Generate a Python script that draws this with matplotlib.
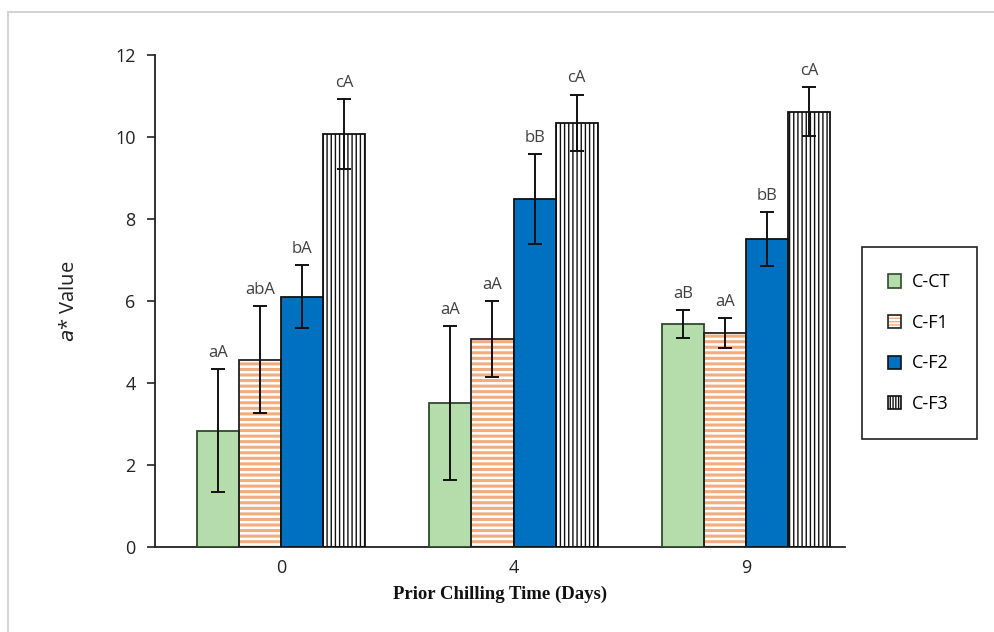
import matplotlib

matplotlib.use("Agg")
import matplotlib.pyplot as plt
from matplotlib.lines import Line2D
from matplotlib.legend_handler import HandlerTuple
import numpy as np

# a* value per treatment at each prior chilling time
days = ["0", "4", "9"]
series = ["C-CT", "C-F1", "C-F2", "C-F3"]
means = {
    "C-CT": [2.83, 3.51, 5.44],
    "C-F1": [4.57, 5.07, 5.22],
    "C-F2": [6.10, 8.48, 7.51],
    "C-F3": [10.07, 10.34, 10.62],
}
errors = {
    "C-CT": [1.50, 1.88, 0.34],
    "C-F1": [1.30, 0.93, 0.36],
    "C-F2": [0.77, 1.10, 0.65],
    "C-F3": [0.86, 0.69, 0.60],
}
letters = {
    "C-CT": ["aA", "aA", "aB"],
    "C-F1": ["abA", "aA", "aA"],
    "C-F2": ["bA", "bB", "bB"],
    "C-F3": ["cA", "cA", "cA"],
}

styles = {
    "C-CT": dict(fill="#b5dcab", hatch=None, hcolor=None, edge="#2f4a2c", hlw=1.0),
    "C-F1": dict(fill="white", hatch="---", hcolor="#f2ac7e", edge="#222222", hlw=2.2),
    "C-F2": dict(fill="#0070c0", hatch=None, hcolor=None, edge="#111111", hlw=1.0),
    "C-F3": dict(fill="white", hatch="||||", hcolor="#111111", edge="#111111", hlw=1.0),
}
legend_hatch = {"C-F1": "-----", "C-F3": "||||||"}

plt.rcParams["font.family"] = ["Open Sans", "DejaVu Sans"]
plt.rcParams["mathtext.fontset"] = "dejavusans"

fig = plt.figure(figsize=(9.95, 6.32), dpi=100)
ax = fig.add_axes([0.1558, 0.1345, 0.6935, 0.7785])

x = np.arange(len(days))
width = 0.181
handles = []
for i, name in enumerate(series):
    st = styles[name]
    pos = x + (i - 1.5) * width
    if st["hatch"]:
        with plt.rc_context({"hatch.linewidth": st["hlw"]}):
            ax.bar(pos, means[name], width, color=st["fill"], edgecolor=st["hcolor"],
                   hatch=st["hatch"], linewidth=0, zorder=2)
            inner = plt.Rectangle((0, 0), 1, 1, facecolor=st["fill"],
                                  edgecolor=st["hcolor"], hatch=legend_hatch[name],
                                  linewidth=0)
        ax.bar(pos, means[name], width, fill=False, edgecolor=st["edge"],
               linewidth=1.3, zorder=3)
        outer = plt.Rectangle((0, 0), 1, 1, fill=False, edgecolor=st["edge"],
                              linewidth=1.2)
        h = (inner, outer)
    else:
        ax.bar(pos, means[name], width, color=st["fill"], edgecolor=st["edge"],
               linewidth=1.3, zorder=3)
        h = plt.Rectangle((0, 0), 1, 1, facecolor=st["fill"], edgecolor=st["edge"],
                          linewidth=1.2)
    handles.append(h)
    ax.errorbar(pos, means[name], yerr=errors[name], fmt="none", ecolor="#111111",
                elinewidth=1.4, capsize=5, capthick=1.4, zorder=4)
    for px, m, e, lab in zip(pos, means[name], errors[name], letters[name]):
        ax.annotate(lab, (px, m + e), xytext=(0, 6), textcoords="offset points",
                    ha="center", va="bottom", fontsize=12, color="#404040")

ax.set_xlim(-0.542, 2.426)
ax.set_ylim(0, 12)
ax.set_yticks(range(0, 13, 2))
ax.set_xticks(x)
ax.set_xticklabels(days)
ax.tick_params(axis="y", direction="out", length=6, width=1.2, labelsize=13,
               colors="#222222", pad=8)
ax.tick_params(axis="x", length=0, labelsize=13, colors="#222222", pad=9)
for side in ("top", "right"):
    ax.spines[side].set_visible(False)
for side in ("left", "bottom"):
    ax.spines[side].set_linewidth(1.3)
    ax.spines[side].set_color("#222222")

ax.set_ylabel(r"$a$* Value", fontsize=14.5, color="#222222", labelpad=26)
ax.set_xlabel("Prior Chilling Time (Days)", family="Liberation Serif",
              fontweight="bold", fontsize=13.5, color="#111111", labelpad=6)

leg = ax.legend(handles, series, loc="upper left", bbox_to_anchor=(0.866, 0.609),
                bbox_transform=fig.transFigure, borderaxespad=0, fontsize=13,
                handlelength=0.75, handleheight=0.75, handletextpad=0.6,
                labelspacing=1.25, borderpad=1.45, fancybox=False, framealpha=1,
                handler_map={tuple: HandlerTuple(ndivide=1, pad=0)})
leg.get_frame().set_edgecolor("#222222")
leg.get_frame().set_linewidth(1.2)

# light frame of the original figure
fig.add_artist(Line2D([0.008, 0.008], [0.0, 0.981], transform=fig.transFigure,
                      color="#d4d4d4", linewidth=1.5))
fig.add_artist(Line2D([0.008, 1.0], [0.981, 0.981], transform=fig.transFigure,
                      color="#d4d4d4", linewidth=1.5))

fig.savefig("out.png", dpi=100)
